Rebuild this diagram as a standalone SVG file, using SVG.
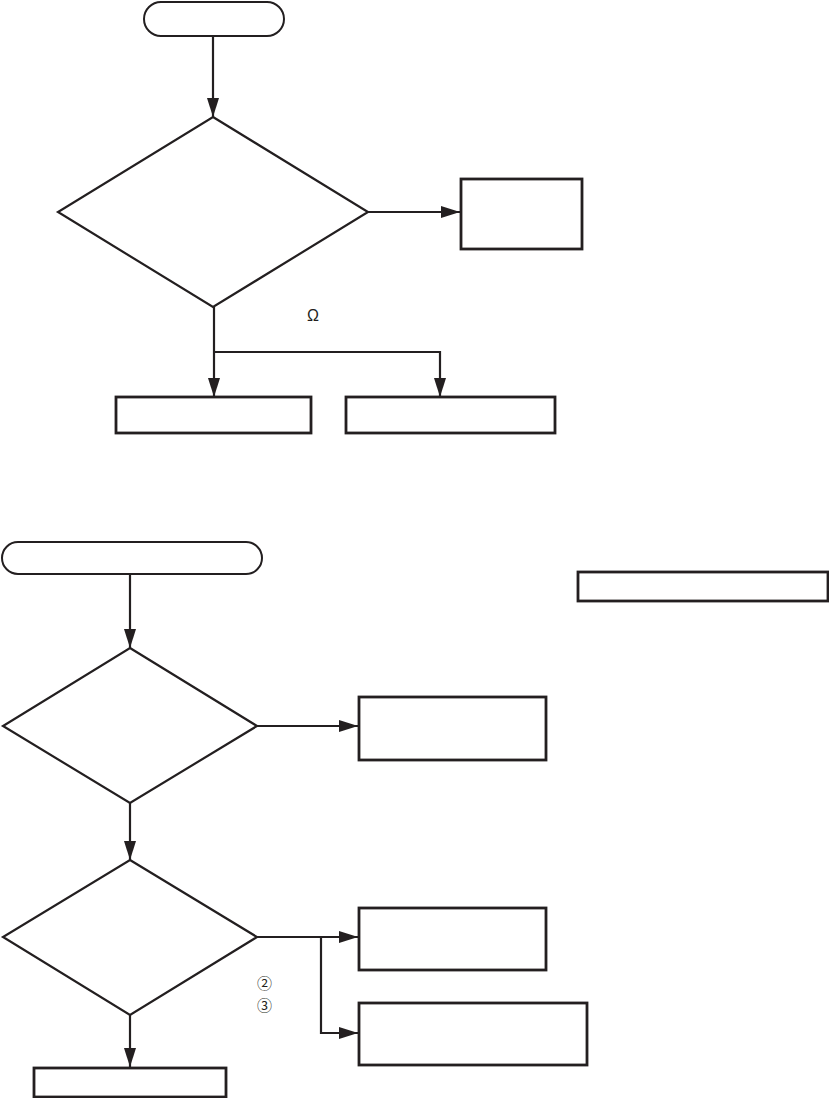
<svg xmlns="http://www.w3.org/2000/svg" width="829" height="1098" viewBox="0 0 829 1098">
<style>
.term{fill:#fff;stroke:#231f20;stroke-width:2}
.dia{fill:#fff;stroke:#231f20;stroke-width:2.2}
.box{fill:#fff;stroke:#231f20;stroke-width:2.8}
.con{fill:none;stroke:#231f20;stroke-width:2.2}
.lbl{font-family:"Liberation Sans",sans-serif;font-size:16px;fill:#231f20}
.num{font-family:"Noto Sans CJK JP","Noto Sans CJK SC",sans-serif;font-size:15px;fill:#231f20}
</style>
<defs>
<marker id="ah" markerUnits="userSpaceOnUse" markerWidth="19" markerHeight="12" refX="19" refY="6" orient="auto">
<path d="M0,0 L19,6 L0,12 z" fill="#231f20"/>
</marker>
</defs>
<rect width="829" height="1098" fill="#fff"/>
<g id="connectors">
<line class="con" x1="213" y1="36" x2="213" y2="117" marker-end="url(#ah)"/>
<line class="con" x1="368" y1="212" x2="460" y2="212" marker-end="url(#ah)"/>
<polyline class="con" points="214,307 214,397" marker-end="url(#ah)"/>
<polyline class="con" points="214,352 440,352 440,397" marker-end="url(#ah)"/>
<line class="con" x1="130" y1="574" x2="130" y2="648" marker-end="url(#ah)"/>
<line class="con" x1="257" y1="726" x2="358" y2="726" marker-end="url(#ah)"/>
<line class="con" x1="130" y1="803" x2="130" y2="860" marker-end="url(#ah)"/>
<line class="con" x1="257" y1="937" x2="358" y2="937" marker-end="url(#ah)"/>
<polyline class="con" points="321,937 321,1033 358,1033" marker-end="url(#ah)"/>
<line class="con" x1="130" y1="1015" x2="130" y2="1067" marker-end="url(#ah)"/>
</g>
<g id="start1"><rect class="term" x="144" y="2" width="140" height="34" rx="17"/></g>
<g id="decision1"><polygon class="dia" points="213,117 368,212 213,307 58,212"/></g>
<g id="box1"><rect class="box" x="461" y="179" width="121" height="70"/></g>
<g id="label-ohm"><text class="lbl" x="307" y="321">Ω</text></g>
<g id="box2"><rect class="box" x="116" y="397" width="195" height="36"/></g>
<g id="box3"><rect class="box" x="346" y="397" width="209" height="36"/></g>
<g id="start2"><rect class="term" x="2" y="542" width="260" height="32" rx="16"/></g>
<g id="box-note"><rect class="box" x="578" y="572" width="250" height="29"/></g>
<g id="decision2"><polygon class="dia" points="130,648 257,726 130,803 3,726"/></g>
<g id="box4"><rect class="box" x="359" y="697" width="187" height="63"/></g>
<g id="decision3"><polygon class="dia" points="130,860 257,937 130,1015 3,937"/></g>
<g id="box5"><rect class="box" x="359" y="908" width="187" height="62"/></g>
<g id="box6"><rect class="box" x="359" y="1003" width="228" height="62"/></g>
<g id="box7"><rect class="box" x="34" y="1068" width="192" height="29"/></g>
<g id="labels2">
<text class="num" x="257" y="989">②</text>
<text class="num" x="257" y="1011">③</text>
</g>
</svg>
